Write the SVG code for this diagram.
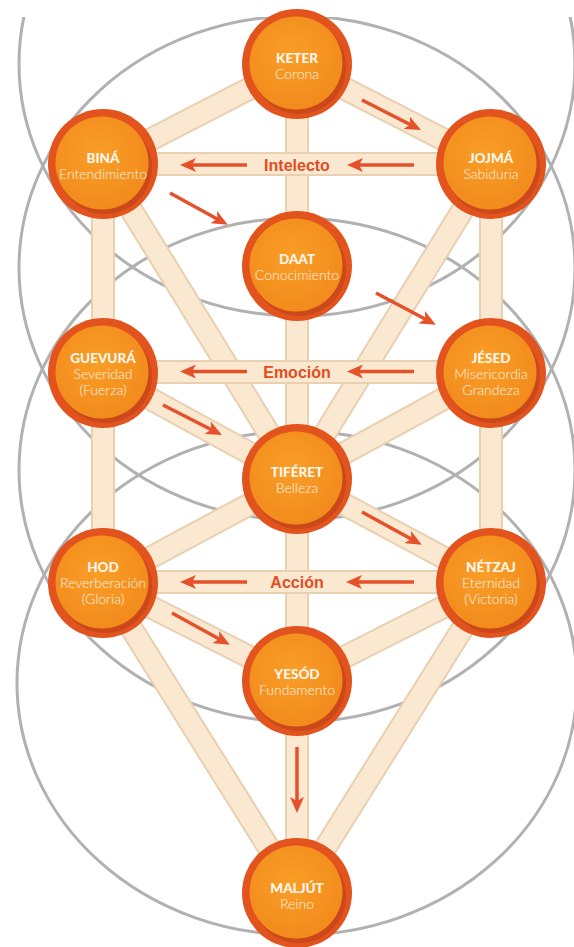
<svg xmlns="http://www.w3.org/2000/svg" width="574" height="947" viewBox="0 0 574 947">
<style>
.ring{fill:#e2531d}
.shade{fill:#b8401a;opacity:.55}
.core{fill:url(#coreGrad)}
.t{font-family:Lato,"Liberation Sans",sans-serif;font-weight:900;font-size:13.5px;fill:#fff7ec;text-anchor:middle}
.s{font-family:Lato,"Liberation Sans",sans-serif;font-weight:300;font-size:14px;fill:#fff3e4;text-anchor:middle}
.lbl{font-family:"Liberation Sans",Arial,sans-serif;font-weight:bold;font-size:16px;fill:#e04e22;text-anchor:middle}
.gc{fill:none;stroke:#b1b1b1;stroke-width:3}
.be{stroke:#e8d0b1;stroke-width:24;stroke-linecap:butt}
.bf{stroke:#fbe8d1;stroke-width:20;stroke-linecap:butt}
.ar{stroke:#e4512a;stroke-width:3.5;fill:none;marker-end:url(#ah)}
</style>
<defs>
<radialGradient id="coreGrad" cx="45%" cy="40%" r="60%">
<stop offset="0" stop-color="#f99e27"/>
<stop offset="1" stop-color="#f28b1c"/>
</radialGradient>
<clipPath id="clipTop"><rect x="0" y="17" width="574" height="930"/></clipPath>
<marker id="ah" viewBox="0 0 16 14" refX="6" refY="7" markerWidth="16" markerHeight="14" markerUnits="userSpaceOnUse" orient="auto">
<path d="M0,0 L16,7 L0,14 L4,7 Z" fill="#e4512a"/>
</marker>
</defs>
<rect width="574" height="947" fill="#ffffff"/>
<g id="circles" clip-path="url(#clipTop)">
<ellipse class="gc" cx="297" cy="64" rx="278" ry="252"/>
<ellipse class="gc" cx="297" cy="268" rx="278" ry="252"/>
<ellipse class="gc" cx="297" cy="470" rx="278" ry="252"/>
<ellipse class="gc" cx="297" cy="683" rx="280" ry="252"/>
</g>
<g id="connectors">
<g id="paths">
<line class="be" x1="297" y1="64" x2="297" y2="893"/><line class="bf" x1="297" y1="64" x2="297" y2="893"/>
<line class="be" x1="103" y1="164" x2="103" y2="583"/><line class="bf" x1="103" y1="164" x2="103" y2="583"/>
<line class="be" x1="491" y1="164" x2="491" y2="583"/><line class="bf" x1="491" y1="164" x2="491" y2="583"/>
<line class="be" x1="297" y1="64" x2="103" y2="164"/><line class="bf" x1="297" y1="64" x2="103" y2="164"/>
<line class="be" x1="297" y1="64" x2="491" y2="164"/><line class="bf" x1="297" y1="64" x2="491" y2="164"/>
<line class="be" x1="103" y1="164" x2="297" y2="479"/><line class="bf" x1="103" y1="164" x2="297" y2="479"/>
<line class="be" x1="491" y1="164" x2="297" y2="479"/><line class="bf" x1="491" y1="164" x2="297" y2="479"/>
<line class="be" x1="103" y1="373" x2="297" y2="479"/><line class="bf" x1="103" y1="373" x2="297" y2="479"/>
<line class="be" x1="491" y1="373" x2="297" y2="479"/><line class="bf" x1="491" y1="373" x2="297" y2="479"/>
<line class="be" x1="103" y1="583" x2="297" y2="479"/><line class="bf" x1="103" y1="583" x2="297" y2="479"/>
<line class="be" x1="491" y1="583" x2="297" y2="479"/><line class="bf" x1="491" y1="583" x2="297" y2="479"/>
<line class="be" x1="103" y1="583" x2="297" y2="681"/><line class="bf" x1="103" y1="583" x2="297" y2="681"/>
<line class="be" x1="491" y1="583" x2="297" y2="681"/><line class="bf" x1="491" y1="583" x2="297" y2="681"/>
<line class="be" x1="103" y1="583" x2="297" y2="893"/><line class="bf" x1="103" y1="583" x2="297" y2="893"/>
<line class="be" x1="491" y1="583" x2="297" y2="893"/><line class="bf" x1="491" y1="583" x2="297" y2="893"/>
<line class="be" x1="103" y1="164" x2="491" y2="164"/><line class="bf" x1="103" y1="164" x2="491" y2="164"/>
<line class="be" x1="103" y1="372" x2="491" y2="372"/><line class="bf" x1="103" y1="372" x2="491" y2="372"/>
<line class="be" x1="103" y1="582" x2="491" y2="582"/><line class="bf" x1="103" y1="582" x2="491" y2="582"/>
</g>
<g id="arrows">
<line class="ar" x1="362" y1="100" x2="412" y2="125.5"/>
<line class="ar" x1="247" y1="165" x2="190" y2="165"/>
<line class="ar" x1="414" y1="165" x2="357" y2="165"/>
<line class="ar" x1="170" y1="193" x2="219" y2="220"/>
<line class="ar" x1="376" y1="293" x2="427" y2="320"/>
<line class="ar" x1="247" y1="371.5" x2="190" y2="371.5"/>
<line class="ar" x1="414" y1="371.5" x2="357" y2="371.5"/>
<line class="ar" x1="163" y1="405" x2="213" y2="430.5"/>
<line class="ar" x1="362" y1="512" x2="413" y2="540"/>
<line class="ar" x1="247" y1="582" x2="190" y2="582"/>
<line class="ar" x1="414" y1="582" x2="356" y2="582"/>
<line class="ar" x1="172" y1="613" x2="221" y2="640"/>
<line class="ar" x1="297" y1="747" x2="297" y2="803"/>
</g>
<g id="labels">
<text class="lbl" x="297" y="171">Intelecto</text>
<text class="lbl" x="297" y="378">Emoción</text>
<text class="lbl" x="297" y="588">Acción</text>
</g>
</g>
<g id="keter"><circle class="ring" cx="297" cy="64" r="55"/><circle class="shade" cx="299" cy="67" r="47"/><circle class="core" cx="296" cy="63" r="46.5"/><text class="t" x="297" y="63">KETER</text><text class="s" x="297" y="79">Corona</text></g>
<g id="bina"><circle class="ring" cx="103" cy="164" r="55"/><circle class="shade" cx="105" cy="167" r="47"/><circle class="core" cx="102" cy="163" r="46.5"/><text class="t" x="103" y="163">BINÁ</text><text class="s" x="103" y="179">Entendimiento</text></g>
<g id="jojma"><circle class="ring" cx="491" cy="164" r="55"/><circle class="shade" cx="493" cy="167" r="47"/><circle class="core" cx="490" cy="163" r="46.5"/><text class="t" x="491" y="163">JOJMÁ</text><text class="s" x="491" y="179">Sabiduria</text></g>
<g id="daat"><circle class="ring" cx="297" cy="266" r="55"/><circle class="shade" cx="299" cy="269" r="47"/><circle class="core" cx="296" cy="265" r="46.5"/><text class="t" x="297" y="264">DAAT</text><text class="s" x="297" y="280">Conocimiento</text></g>
<g id="guevura"><circle class="ring" cx="103" cy="373" r="55"/><circle class="shade" cx="105" cy="376" r="47"/><circle class="core" cx="102" cy="372" r="46.5"/><text class="t" x="103" y="363">GUEVURÁ</text><text class="s" x="103" y="379">Severidad</text><text class="s" x="103" y="395">(Fuerza)</text></g>
<g id="jesed"><circle class="ring" cx="491" cy="373" r="55"/><circle class="shade" cx="493" cy="376" r="47"/><circle class="core" cx="490" cy="372" r="46.5"/><text class="t" x="491" y="363">JÉSED</text><text class="s" x="491" y="379">Misericordia</text><text class="s" x="491" y="395">Grandeza</text></g>
<g id="tiferet"><circle class="ring" cx="297" cy="479" r="55"/><circle class="shade" cx="299" cy="482" r="47"/><circle class="core" cx="296" cy="478" r="46.5"/><text class="t" x="297" y="477">TIFÉRET</text><text class="s" x="297" y="493">Belleza</text></g>
<g id="hod"><circle class="ring" cx="103" cy="583" r="55"/><circle class="shade" cx="105" cy="586" r="47"/><circle class="core" cx="102" cy="582" r="46.5"/><text class="t" x="103" y="572">HOD</text><text class="s" x="103" y="588">Reverberación</text><text class="s" x="103" y="604">(Gloria)</text></g>
<g id="netzaj"><circle class="ring" cx="491" cy="583" r="55"/><circle class="shade" cx="493" cy="586" r="47"/><circle class="core" cx="490" cy="582" r="46.5"/><text class="t" x="491" y="572">NÉTZAJ</text><text class="s" x="491" y="588">Eternidad</text><text class="s" x="491" y="604">(Victoria)</text></g>
<g id="yesod"><circle class="ring" cx="297" cy="681" r="55"/><circle class="shade" cx="299" cy="684" r="47"/><circle class="core" cx="296" cy="680" r="46.5"/><text class="t" x="297" y="679">YESÓD</text><text class="s" x="297" y="695">Fundamento</text></g>
<g id="maljut"><circle class="ring" cx="297" cy="893" r="55"/><circle class="shade" cx="299" cy="896" r="47"/><circle class="core" cx="296" cy="892" r="46.5"/><text class="t" x="297" y="893">MALJÚT</text><text class="s" x="297" y="909">Reino</text></g>
</svg>
